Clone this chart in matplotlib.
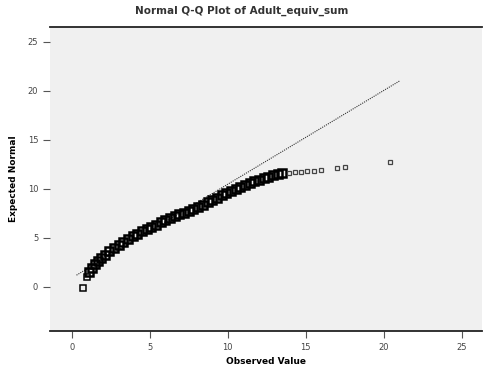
import matplotlib
matplotlib.use("Agg")
import matplotlib.pyplot as plt

# values
observed = [0.7, 0.95, 1.1, 1.3, 1.5, 1.7, 1.9, 2.1, 2.4, 2.7, 3.0, 3.3, 3.6,
            3.9, 4.2, 4.5, 4.8, 5.1, 5.4, 5.7, 6.0, 6.3, 6.6, 6.9, 7.2, 7.5,
            7.8, 8.1, 8.4, 8.7, 9.0, 9.3, 9.6, 9.9, 10.2, 10.5, 10.8, 11.1,
            11.4, 11.7, 12.0, 12.3, 12.6, 12.9, 13.2, 13.5]
expected = [-0.1, 1.0, 1.5, 1.9, 2.3, 2.6, 3.0, 3.3, 3.7, 4.0, 4.3, 4.6, 4.9,
            5.2, 5.4, 5.7, 5.9, 6.1, 6.35, 6.6, 6.8, 7.0, 7.2, 7.4, 7.55, 7.75,
            7.95, 8.2, 8.4, 8.65, 8.9, 9.1, 9.35, 9.6, 9.8, 10.0, 10.2, 10.4,
            10.6, 10.8, 10.95, 11.1, 11.25, 11.4, 11.5, 11.6]
# sparse points in the upper tail
tail_observed = [13.9, 14.3, 14.7, 15.1, 15.5, 16.0, 17.0, 17.5, 20.4]
tail_expected = [11.65, 11.7, 11.75, 11.8, 11.85, 11.9, 12.1, 12.2, 12.7]
ref_line_x = [0.3, 21.0]
ref_line_y = [1.2, 21.0]
x_ticks = [0, 5, 10, 15, 20, 25]
y_ticks = [0, 5, 10, 15, 20, 25]

fig = plt.figure(figsize=(4.83, 3.67), dpi=100)
ax = fig.add_axes([0.1035, 0.098, 0.8945, 0.828])
ax.set_facecolor("#f0f0f0")

ax.plot(ref_line_x, ref_line_y, color="#333333", lw=0.8, ls=(0, (1, 1)))
ax.plot(observed[:2], expected[:2], ls="none", marker="s", ms=4, mfc="none",
        mec="black", mew=1.1)
ax.plot(observed[2:], expected[2:], ls="none", marker="s", ms=6, mfc="none",
        mec="black", mew=1.8)
ax.plot(tail_observed, tail_expected, ls="none", marker="s", ms=3.5,
        mfc="none", mec="#444444", mew=0.9)

ax.set_xlim(-1.4, 26.3)
ax.set_ylim(-4.5, 26.5)
ax.set_xticks(x_ticks)
ax.set_yticks(y_ticks)
ax.tick_params(labelsize=6, length=5, width=0.8, color="#555555",
               labelcolor="#444444")

for s in ["left", "right"]:
    ax.spines[s].set_visible(False)
for s in ["top", "bottom"]:
    ax.spines[s].set_linewidth(1.3)
    ax.spines[s].set_color("#222222")

ax.set_xlabel("Observed Value", fontsize=6.5, fontweight="bold", labelpad=4)
ax.set_ylabel("Expected Normal", fontsize=6.5, fontweight="bold", labelpad=7)
fig.suptitle("Normal Q-Q Plot of Adult_equiv_sum", fontsize=7.5,
             fontweight="bold", y=0.985, color="#333333")

fig.savefig("out.png", dpi=100)
